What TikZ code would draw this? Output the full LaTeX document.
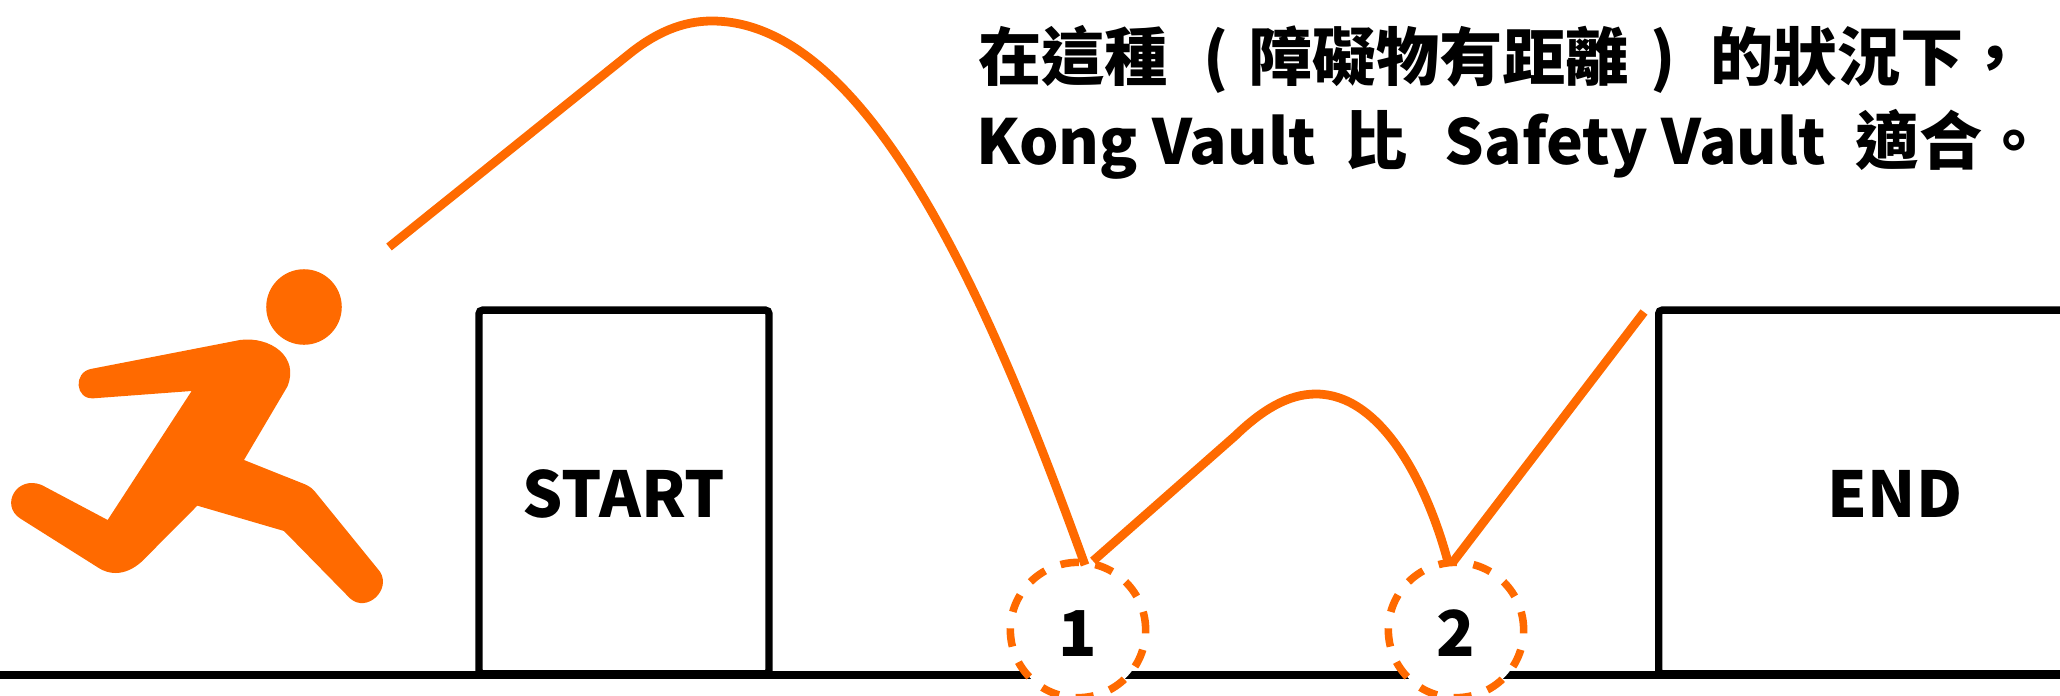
\documentclass[tikz,border=0pt]{standalone}
\usepackage{fontspec}
\usepackage{xcolor}
\setmainfont{Noto Sans CJK TC}[BoldFont={Noto Sans CJK TC Black}]
\usetikzlibrary{positioning}
\definecolor{jumporange}{HTML}{FF6A00}
\newcommand{\latinsize}{\fontsize{35.4}{40}\selectfont}
\tikzset{
  groundline/.style={draw=black, line width=4pt},
  wallbox/.style={draw=black, fill=white, line width=4.2pt, rounded corners=2pt, inner sep=0pt,
    text height=29pt, text depth=0pt, font=\bfseries\fontsize{36}{40}\selectfont},
  spotcircle/.style={circle, draw=jumporange, fill=white, line width=4.3pt, minimum size=77pt, inner sep=0pt,
    text height=30pt, text depth=0pt, dash pattern=on 10.5pt off 9.5pt,
    font=\bfseries\fontsize{36}{40}\selectfont, text=black},
  jumpline/.style={draw=jumporange, line width=5pt},
  headline/.style={inner sep=0pt, anchor=base west, font=\bfseries\fontsize{36}{40}\selectfont}
}
\begin{document}
\begin{tikzpicture}[x=0.02cm, y=-0.02cm]
  \path[use as bounding box] (0,0) rectangle (2060,696);
  \clip (0,0) rectangle (2060,696);

  \coordinate (groundleft) at (-10,675);
  \coordinate (groundright) at (2070,675);
  \draw[groundline] (groundleft) -- (groundright);

  \node[wallbox, minimum width=165pt, minimum height=207pt] (startbox) at (624,492) {START};
  \node[wallbox, minimum width=269pt, minimum height=207pt] (endbox) at (1895,492) {END};

  \node[spotcircle] (spot1) at (1078,630) {1};
  \node[spotcircle] (spot2) at (1456,630) {2};

  \coordinate (takeoff) at (389,247);
  \coordinate (rise1) at (628,55);
  \coordinate (peak1) at (712,21);
  \coordinate (land1) at (1085,565);
  \coordinate (push1) at (1093,561);
  \coordinate (rise2) at (1235,436);
  \coordinate (peak2) at (1316,394);
  \coordinate (land2) at (1448,562);
  \coordinate (push2) at (1453,562);
  \coordinate (wallend) at (1644,312);

  \draw[jumpline] (takeoff) -- (rise1) .. controls (655,33) and (682,21) .. (peak1)
    .. controls (875,21) and (1000,330) .. (land1);
  \draw[jumpline] (push1) -- (rise2) .. controls (1262,410) and (1288,394) .. (peak2)
    .. controls (1380,394) and (1426,480) .. (land2);
  \draw[jumpline] (push2) -- (wallend);

  \node[circle, fill=jumporange, minimum size=43pt, inner sep=0pt] (head) at (304,307) {};
  \begin{scope}[shift={(0,250)}, x=0.00667cm, y=-0.00667cm]
    \fill[jumporange] (272,357) -- (720,270) .. controls (810,258) and (900,320) .. (862,410)
      -- (732,630) -- (915,703) .. controls (930,710) and (938,716) .. (945,725)
      -- (1140,965) .. controls (1175,1020) and (1100,1090) .. (1050,1045)
      -- (852,843) -- (592,767) -- (440,920) .. controls (395,970) and (340,985) .. (290,950)
      -- (60,805) .. controls (0,765) and (50,675) .. (125,705)
      -- (323,810) -- (575,423) -- (280,445) .. controls (225,448) and (220,368) .. (272,357) -- cycle;
  \end{scope}

  \node[headline] (line1) at (978,81) {在這種\hspace{20pt}(\hspace{12pt}障礙物有距離\hspace{12pt})\hspace{20pt}的狀況下，};
  \node[headline] (line2) at (976,165) {{\latinsize Kong Vault}\hspace{16pt}比\hspace{21pt}{\latinsize Safety Vault}\hspace{17pt}適合。};
\end{tikzpicture}
\end{document}
